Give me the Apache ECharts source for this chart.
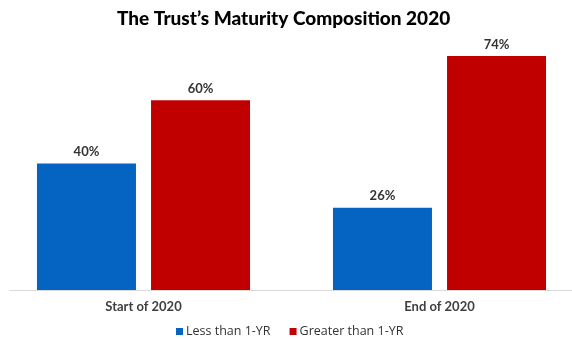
<!DOCTYPE html>
<html><head><meta charset="utf-8">
<script src="https://cdn.jsdelivr.net/npm/echarts@6/dist/echarts.min.js"></script>
<style>html,body{margin:0;padding:0;background:#fff}#c{width:572px;height:339px}</style>
</head><body><div id="c"></div>
<script>
var categories = ['Start of 2020', 'End of 2020'];
var lessThan1YR = [40, 26];
var greaterThan1YR = [60, 74];
var seriesNames = ['Less than 1-YR', 'Greater than 1-YR'];

var chart = echarts.init(document.getElementById('c'));
var labelStyle = {show: true, position: 'top', distance: 5, formatter: '{c}%', color: '#333', fontFamily: 'Lato', fontWeight: 'bold', fontSize: 13};
chart.setOption({
  animation: false,
  title: {text: 'The Trust\u2019s Maturity Composition 2020', left: 112, top: 4,
    textStyle: {fontFamily: 'Lato', fontWeight: 900, fontSize: 19, color: '#000'}},
  legend: {top: 325, left: 176, padding: 0, itemWidth: 7, itemHeight: 7, itemGap: 19, icon: 'rect',
    textStyle: {fontFamily: 'Open Sans', fontSize: 12.5, color: '#333', padding: [0, 0, 0, -2]}, data: seriesNames},
  grid: [
    {left: 143.5, width: 296, top: 37, bottom: 49, outerBoundsMode: 'none'},
    {left: 10, right: 0, top: 37, bottom: 49}
  ],
  xAxis: [
    {type: 'category', data: categories, gridIndex: 0, boundaryGap: false,
      axisLine: {show: false}, axisTick: {show: false},
      axisLabel: {margin: 10, color: '#404040', fontFamily: 'Lato', fontWeight: 'bold', fontSize: 13}},
    {type: 'category', data: categories, gridIndex: 1,
      axisLine: {show: true, lineStyle: {color: '#d9d9d9', width: 1}}, axisTick: {show: false}, axisLabel: {show: false}}
  ],
  yAxis: [
    {type: 'value', min: 0, max: 80, gridIndex: 0, show: false, splitLine: {show: false}},
    {type: 'value', min: 0, max: 80, gridIndex: 1, show: false, splitLine: {show: false}}
  ],
  series: [
    {name: seriesNames[0], type: 'bar', data: lessThan1YR, barWidth: 99, barGap: '15.2%', clip: false,
      itemStyle: {color: '#0563C1'}, label: labelStyle},
    {name: seriesNames[1], type: 'bar', data: greaterThan1YR, barWidth: 99, barGap: '15.2%', clip: false,
      itemStyle: {color: '#C00000'}, label: labelStyle}
  ]
});
</script></body></html>
